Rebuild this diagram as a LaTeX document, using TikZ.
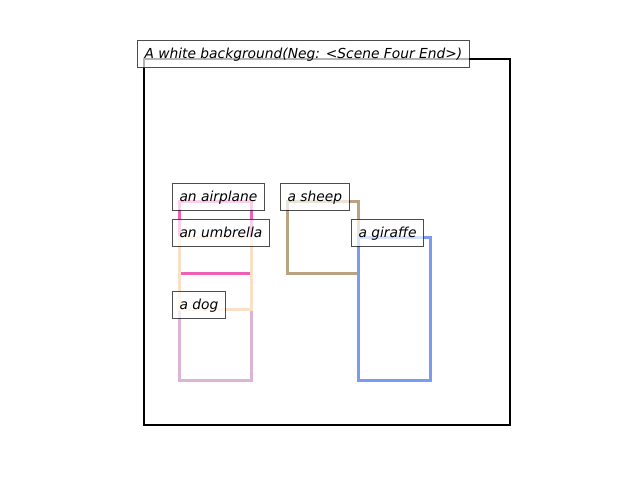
\documentclass[tikz,border=0pt]{standalone}
\usepackage{fontspec}
\setmainfont{DejaVu Sans}
\definecolor{cairplane}{HTML}{F060B6}
\definecolor{cumbrella}{HTML}{FBE0C8}
\definecolor{csheep}{HTML}{B8A482}
\definecolor{cgiraffe}{HTML}{7B9BF0}
\definecolor{cdog}{HTML}{DCB4D6}
\tikzset{
  objbox/.style={line width=3pt},
  lbl/.style={anchor=west, draw=black, draw opacity=0.7, fill=white, fill opacity=0.7, text opacity=1,
    line width=1pt, inner xsep=7pt, inner ysep=0pt, minimum height=27pt, text height=11.5pt, text depth=2.5pt,
    font=\fontsize{13.8pt}{16pt}\selectfont\itshape}
}
\begin{document}
\begin{tikzpicture}[x=1pt,y=-1pt]
\useasboundingbox (0,0) rectangle (640,480);
\fill[white] (0,0) rectangle (640,480);
% outer frame
\draw[line width=2pt] (144,59) rectangle (510,425);
% object boxes
\draw[objbox, cairplane] (179,201) rectangle (251,273);
\draw[objbox, cdog] (179,309) rectangle (251,380);
\draw[objbox, cumbrella] (179,237) rectangle (251,309);
\draw[objbox, csheep] (287,201) rectangle (358,273);
\draw[objbox, cgiraffe] (358,237) rectangle (430,380);
% labels
\node[lbl] (title) at (137,54) {A white background(Neg: <Scene Four End>)};
\node[lbl] (airplane) at (172,196.5) {an airplane};
\node[lbl] (umbrella) at (172,232.5) {an umbrella};
\node[lbl] (sheep) at (280,196.5) {a sheep};
\node[lbl] (giraffe) at (351,232.5) {a giraffe};
\node[lbl] (dog) at (172,304.5) {a dog};
\end{tikzpicture}
\end{document}
